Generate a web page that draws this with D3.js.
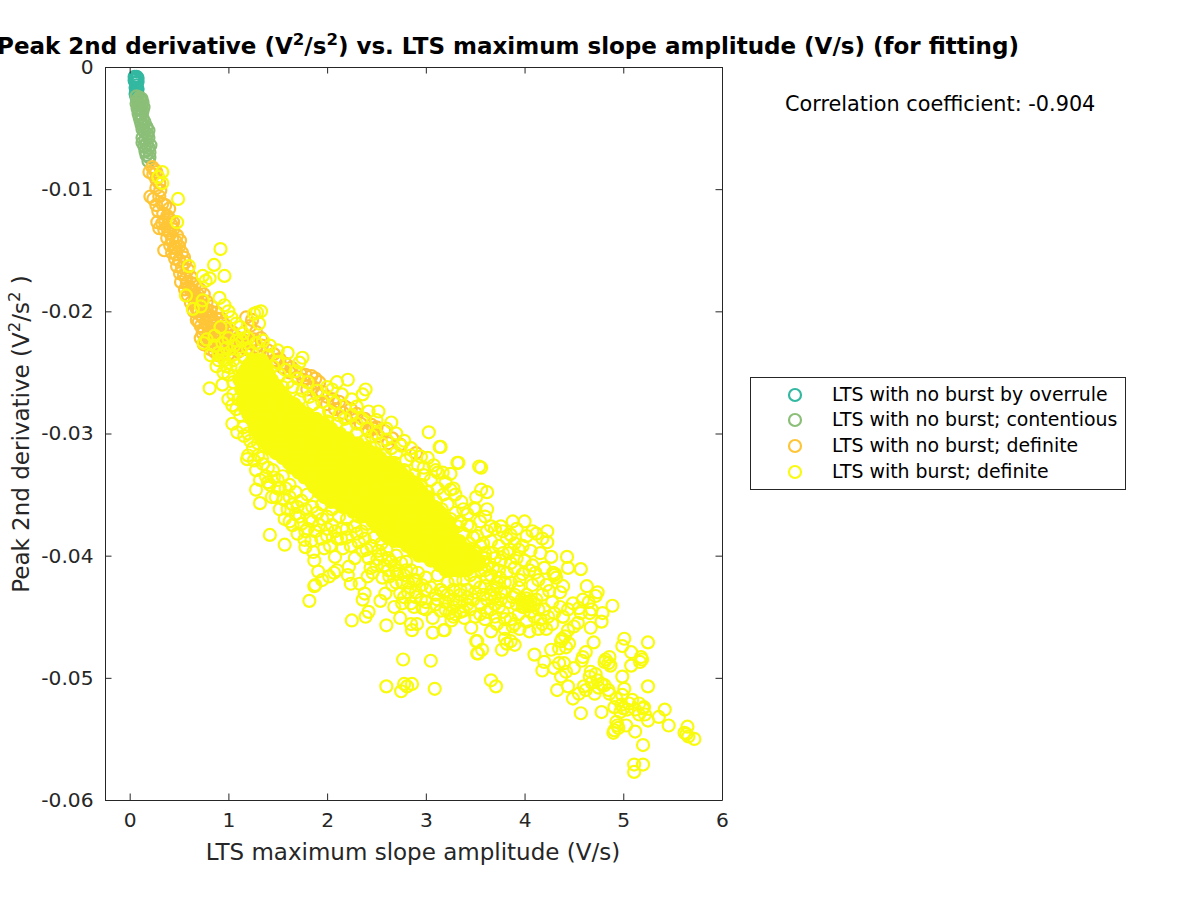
<!DOCTYPE html>
<html><head><meta charset="utf-8">
<script src="https://cdn.jsdelivr.net/npm/d3@7"></script>
<style>html,body{margin:0;background:#fff}svg{display:block;font-family:"DejaVu Sans",sans-serif}</style>
</head><body><div id="c"></div>
<script>
const xTicks=[0,1,2,3,4,5,6];
const yTicks=[0,-0.01,-0.02,-0.03,-0.04,-0.05,-0.06];
const yTickLabels=["0","-0.01","-0.02","-0.03","-0.04","-0.05","-0.06"];
const seriesNames=["LTS with no burst by overrule","LTS with no burst; contentious","LTS with no burst; definite","LTS with burst; definite"];
const seriesColors=["#33b8a1","#8bbf78","#fec537","#f9fb0e"];
const overrule=[[.05,-.0008],[.07,-.0008],[.08,-.0009],[.06,-.0010],[.05,-.0011],[.08,-.0012],[.06,-.0013],[.07,-.0015],[.06,-.0017],[.08,-.0018],[.07,-.0020],[.06,-.0022],[.08,-.0023],[.07,-.0025]];
const contentious=[[.07,-.0024],[.1,-.0025],[.12,-.0026],[.08,-.0027],[.11,-.0028],[.13,-.0029],[.07,-.0030],[.09,-.0031],[.12,-.0032],[.14,-.0033],[.08,-.0034],[.1,-.0035],[.13,-.0036],[.09,-.0038],[.12,-.0039],[.1,-.0041],[.13,-.0042],[.11,-.0044],[.15,-.0045],[.12,-.0047],[.14,-.0048],[.17,-.0049],[.13,-.0051],[.19,-.0052],[.15,-.0053],[.18,-.0055],[.13,-.0058],[.16,-.0059],[.19,-.0058],[.13,-.0062],[.17,-.0063],[.15,-.0065],[.19,-.0066],[.21,-.0064],[.16,-.0069],[.2,-.0070],[.17,-.0072],[.2,-.0074],[.19,-.0077]];
const noBurst=[[.23,-.0082],[.25,-.0084],[.2,-.0086],[.24,-.0088],[.27,-.0086],[.27,-.0092],[.3,-.0095],[.27,-.0099],[.31,-.0101],[.21,-.0106],[.24,-.0108],[.3,-.0106],[.33,-.0112],[.27,-.0113],[.36,-.0113],[.4,-.0116],[.29,-.0118],[.34,-.0120],[.38,-.0122],[.28,-.0127],[.33,-.0128],[.36,-.0127],[.42,-.0129],[.3,-.0132],[.35,-.0133],[.39,-.0134],[.44,-.0133],[.48,-.0138],[.38,-.0140],[.43,-.0141],[.47,-.0143],[.35,-.0150],[.41,-.0146],[.45,-.0148],[.5,-.0147],[.43,-.0152],[.47,-.0153],[.53,-.0152],[.46,-.0157],[.5,-.0158],[.56,-.0160],[.48,-.0163],[.53,-.0164],[.59,-.0166],[.55,-.0170],[.62,-.0172],[.52,-.0176],[.58,-.0177],[.66,-.0178],[.56,-.0182],[.62,-.0183],[.71,-.0182],[.59,-.0187],[.67,-.0188],[.75,-.0186],[.62,-.0193],[.7,-.0193],[.78,-.0192],[.68,-.0198],[.75,-.0198],[.83,-.0196],[.72,-.0203],[.8,-.0203],[.88,-.0201],[.7,-.0209],[.77,-.0209],[.85,-.0208],[.93,-.0206],[.75,-.0215],[.83,-.0214],[.9,-.0214],[.98,-.0212],[.72,-.0222],[.79,-.0221],[.88,-.0220],[.96,-.0219],[1.04,-.0217],[.75,-.0227],[.84,-.0228],[.93,-.0225],[1.02,-.0224],[1.1,-.0222],[1.18,-.0205],[1.24,-.0207],[1.22,-.0212],[1.28,-.0217],[1.33,-.0222],[.86,-.0233],[.95,-.0232],[1.05,-.0230],[1.14,-.0228],[1.22,-.0226],[1.34,-.0228],[1.4,-.0232],[1.46,-.0235],[1.52,-.0239],[1.58,-.0243],[1.64,-.0246],[1.68,-.0249],[1.73,-.0251],[1.78,-.0252],[1.84,-.0253],[1.88,-.0255],[1.92,-.0258],[1.86,-.0262],[1.95,-.0266],[2.0,-.0270],[2.06,-.0272],[2.12,-.0274],[2.18,-.0278],[2.24,-.0280],[2.3,-.0284],[2.38,-.0288],[2.45,-.0293],[2.5,-.0295],[2.58,-.0298],[2.66,-.0304],[2.74,-.0309],[2.9,-.0316],[2.47,-.0296],
[.4,-.0124],[.44,-.0127],[.41,-.0136],[.51,-.0142],[.47,-.0148],[.55,-.0156],[.51,-.0169],[.57,-.0173],[.63,-.0177],[.6,-.0180],[.65,-.0184],[.69,-.0186],[.66,-.0192],[.72,-.0190],[.74,-.0195],[.65,-.0200],[.7,-.0200],[.78,-.0199],[.74,-.0205],[.82,-.0200],[.68,-.0207],[.81,-.0208],[.88,-.0206],[.72,-.0212],[.79,-.0212],[.86,-.0212],[.94,-.0210],[.74,-.0218],[.8,-.0218],[.86,-.0217],[.92,-.0217],[.98,-.0216],[.76,-.0224],[.82,-.0224],[.9,-.0223],[.98,-.0222],[1.06,-.0220],[.82,-.0231],[.9,-.0229],[.98,-.0228],[1.08,-.0227],[1.16,-.0224],[.9,-.0236],[1.0,-.0235],[1.1,-.0233],[1.18,-.0231],[1.28,-.0229],[1.26,-.0223],[1.32,-.0232],[1.4,-.0237],[1.48,-.0240],[1.55,-.0246],[1.62,-.0250],[1.7,-.0254],[1.76,-.0256],[1.82,-.0258],[1.8,-.0264],[1.9,-.0268],[2.0,-.0276],[2.08,-.0280],[2.16,-.0283],[2.25,-.0287],[2.34,-.0292],[2.42,-.0298],[2.52,-.0302],[2.62,-.0308]];
const burstEdge=[[.33,-.0086],[.29,-.0090],[.33,-.0095],[.49,-.0108],[.48,-.0127],[.92,-.0149],[.855,-.0162],[.96,-.0171],[.6,-.0163],[.74,-.0171],[.81,-.0173],[.77,-.0175],[.57,-.0187],[.74,-.0191],[.64,-.0198],[.91,-.0189],[.96,-.0195],[1.33,-.0200],[1.26,-.0202],[1.31,-.0210],[1.29,-.0201],[.72,-.0196],[1.0,-.0200],[1.03,-.0205],[1.08,-.0210],[1.12,-.0213],[.92,-.0213],[.86,-.0220],[1.0,-.0222],[1.08,-.0224],[1.15,-.0218],[1.2,-.0222],[1.28,-.0226],[1.35,-.0224],[1.42,-.0228],[1.5,-.0232],[1.6,-.0234],[1.75,-.0238],[1.68,-.0249],[1.72,-.0242],[.75,-.0226],[.78,-.0223],[.9,-.0240],[.95,-.0235],[.98,-.0245],[1.05,-.0240],[.81,-.0263],[.94,-.0260],[1.0,-.0252],[1.04,-.0277],[1.04,-.0292],[1.09,-.0299],[1.05,-.0268],[1.19,-.0321],[1.28,-.0346],[1.32,-.0357],[1.57,-.0370],[1.42,-.0383],[1.57,-.0391],[1.82,-.0437],[1.87,-.0425],[1.88,-.0424],[1.91,-.0413],[1.95,-.0420],[1.87,-.0404],[1.86,-.0397],[1.78,-.0380],[1.77,-.0387],[1.78,-.0393],[2.08,-.0401],[1.97,-.0394],[1.94,-.0386],[2.16,-.0394],[2.32,-.0389],[2.1,-.0386],[2.02,-.0417],[2.07,-.0414],[2.1,-.0412],[2.22,-.0409],[2.21,-.0416],[2.24,-.0423],[2.33,-.0423],[2.36,-.0436],[2.38,-.0431],[2.25,-.0453],[2.39,-.0450],[2.42,-.0446],[2.6,-.0457],[2.54,-.0437],[2.59,-.0431],[2.44,-.0410],[2.41,-.0417],[2.56,-.0418],[2.63,-.0417],[2.71,-.0415],[2.51,-.0403],[2.68,-.0442],[2.76,-.0439],[2.85,-.0439],[2.74,-.0431],[2.74,-.0451],[2.85,-.0456],[2.91,-.0456],[2.86,-.0461],[3.07,-.0463],[3.18,-.0461],[2.97,-.0443],[3.07,-.0451],[3.24,-.0447],[3.26,-.0453],[3.39,-.0451],[3.46,-.0459],[3.51,-.0470],[3.52,-.0480],[2.77,-.0485],[3.05,-.0486],[2.6,-.0507],[2.78,-.0505],[2.86,-.0505],[2.75,-.0511],[2.81,-.0507],[3.09,-.0509],[1.4,-.0340],[1.5,-.0345],[1.62,-.0352],[1.7,-.0360],[1.65,-.0375],[1.72,-.0368],[1.85,-.0372],[2.0,-.0378],[2.2,-.0385],[2.4,-.0395],[2.55,-.0400],[2.65,-.0405],[2.8,-.0412],[2.9,-.0420],[3.0,-.0428],[2.7,-.0422],[2.82,-.0430],[2.95,-.0436],[3.1,-.0440],[3.2,-.0438],
[2.21,-.0256],[2.39,-.0264],[2.36,-.0268],[2.52,-.0282],[2.65,-.0291],[3.03,-.0299],[3.14,-.0311],[2.1,-.0258],[2.05,-.0264],[2.15,-.0268],[2.25,-.0272],[2.3,-.0278],[2.42,-.0282],[2.5,-.0289],[2.6,-.0296],[2.7,-.0300],[2.78,-.0306],[2.85,-.0312],[2.95,-.0319],[3.15,-.0311],[3.32,-.0324],[3.17,-.0332],[3.25,-.0333],[3.12,-.0332],[3.25,-.0346],[3.49,-.0361],[3.54,-.0327],[3.62,-.0348],[3.56,-.0346],[3.51,-.0352],[3.56,-.0328],[3.62,-.0362],[3.5,-.0362],[3.33,-.0324],[3.02,-.0320],[3.08,-.0326],[2.98,-.0328],[3.2,-.0340],[3.3,-.0350],[3.36,-.0356],[3.42,-.0366],[3.35,-.0372],[3.45,-.0376],[3.55,-.0372],[3.6,-.0368],
[4.23,-.0380],[4.23,-.0389],[4.08,-.0380],[3.92,-.0378],[3.86,-.0383],[4.02,-.0384],[4.12,-.0382],[4.18,-.0386],[3.78,-.0380],[3.7,-.0378],[3.62,-.0380],[3.52,-.0384],[3.58,-.0390],[3.66,-.0388],[3.74,-.0392],[3.82,-.0386],[3.9,-.0390],[3.98,-.0392],[4.06,-.0396],[3.5,-.0398],[3.6,-.0402],[3.68,-.0398],[3.76,-.0404],[3.84,-.0398],[3.92,-.0402],[4.0,-.0404],[4.08,-.0408],[4.11,-.0414],[3.98,-.0415],[4.27,-.0401],[4.43,-.0401],[4.44,-.0410],[4.57,-.0411],[4.3,-.0416],[4.31,-.0415],[4.29,-.0414],[4.32,-.0418],[4.39,-.0425],[4.36,-.0430],[4.25,-.0429],[4.08,-.0424],[3.9,-.0410],[3.82,-.0414],[3.75,-.0418],[3.86,-.0422],[3.94,-.0426],[4.02,-.0432],[3.72,-.0426],[3.8,-.0430],[3.66,-.0432],[3.88,-.0434],[3.97,-.0436],[4.0,-.0438],[4.03,-.0438],[4.06,-.0437],[4.03,-.0441],[4.0,-.0442],[4.06,-.0441],[4.02,-.0435],[4.1,-.0440],[4.14,-.0444],[4.12,-.0436],[3.92,-.0440],[3.84,-.0438],[3.76,-.0436],[3.7,-.0440],[3.62,-.0436],[3.56,-.0440],[3.48,-.0436],[3.42,-.0440],[3.34,-.0438],[3.28,-.0442],[3.55,-.0448],[3.62,-.0446],[3.7,-.0450],[3.78,-.0446],[3.86,-.0452],[3.94,-.0448],[4.02,-.0454],[4.1,-.0450],[4.18,-.0456],[3.72,-.0456],[3.8,-.0460],[3.88,-.0458],[3.66,-.0462],[3.95,-.0460],[4.05,-.0462],[4.14,-.0460],[3.19,-.0461],[3.52,-.0470],[3.57,-.0477],[3.53,-.0480],[3.77,-.0477],[3.9,-.0473],[3.82,-.0472],[3.8,-.0468],[3.86,-.0470],[3.66,-.0502],[3.71,-.0507],[4.3,-.0447],[4.39,-.0450],[4.2,-.0444],[4.24,-.0450],[4.28,-.0456],[4.16,-.0452],[4.22,-.0460],
[4.1,-.0481],[4.27,-.0477],[4.37,-.0470],[4.45,-.0472],[4.35,-.0476],[4.38,-.0468],[4.42,-.0475],[4.7,-.0471],[4.59,-.0483],[4.62,-.0479],[4.58,-.0486],[4.44,-.0461],[4.41,-.0466],[4.39,-.0450],[4.67,-.0459],[4.54,-.0455],[4.5,-.0458],[4.79,-.0447],[4.78,-.0454],[4.89,-.0441],[4.49,-.0439],[4.57,-.0447],[4.66,-.0447],[4.59,-.0436],[4.65,-.0438],[4.72,-.0433],[4.74,-.0430],[4.63,-.0425],[4.68,-.0444],[4.55,-.0443],
[5.25,-.0471],[5.01,-.0468],[4.99,-.0474],[5.08,-.0479],[5.18,-.0483],[5.17,-.0487],[5.19,-.0485],[5.08,-.0490],[4.82,-.0485],[4.86,-.0483],[4.87,-.0490],[4.81,-.0487],[4.85,-.0488],[4.99,-.0499],[5.25,-.0507],[5.01,-.0509],[5.42,-.0526],[5.36,-.0532],[5.46,-.0539],[5.65,-.0540],[5.64,-.0546],[5.66,-.0548],[5.72,-.0550],[5.62,-.0545],[5.2,-.0555],[5.2,-.0571],[5.11,-.0571],[5.11,-.0577],[5.12,-.0544],[5.03,-.0539],[4.94,-.0539],[4.9,-.0545],[4.93,-.0536],[4.91,-.0543],[4.95,-.0541],[4.57,-.0529],[4.78,-.0528],[5.2,-.0525],[5.22,-.0530],[5.25,-.0535],[5.16,-.0530],[5.21,-.0524],[4.91,-.0524],[4.98,-.0522],[5.04,-.0526],[5.09,-.0518],[5.16,-.0521],[4.99,-.0514],[4.86,-.0513],[4.81,-.0506],[4.74,-.0502],[4.67,-.0495],[4.71,-.0513],[4.6,-.0507],[4.55,-.0513],[4.49,-.0517],[4.33,-.0510],[4.44,-.0507],[4.37,-.0499],[4.5,-.0492],[4.35,-.0488],[4.2,-.0487],[4.18,-.0494],[4.42,-.0495],[4.4,-.0488],[4.3,-.0492],[4.62,-.0510],[4.68,-.0504],[4.75,-.0508],[4.66,-.0499],[4.72,-.0497],[4.78,-.0505],[4.85,-.0510],[4.93,-.0517],[4.97,-.0528],[5.0,-.0525],[5.06,-.0521],[5.12,-.0526]];
const burstUpperFringe=[[1.4,-.0236],[1.45,-.0245],[1.52,-.0252],[1.5,-.0242],[1.58,-.0248],[1.6,-.0258],[1.65,-.0262],[1.55,-.0262],[1.7,-.0255],[1.75,-.0265],[1.8,-.0258],[1.72,-.0272],[1.82,-.0270],[1.9,-.0265],[1.86,-.0276],[1.95,-.0274],[2.0,-.0262],[1.92,-.0283],[2.02,-.0282],[2.08,-.0275],[2.12,-.0285],[2.0,-.0290],[2.1,-.0292],[2.18,-.0288],[2.25,-.0285],[2.3,-.0292],[2.2,-.0296],[2.35,-.0288],[2.4,-.0296],[2.3,-.0300],[2.45,-.0302],[2.38,-.0306],[2.5,-.0300],[2.55,-.0308],[2.48,-.0312],[2.6,-.0305],[2.65,-.0312],[2.58,-.0318],[2.7,-.0316],[2.75,-.0310],[2.8,-.0322],[2.68,-.0324],[2.85,-.0318],[2.92,-.0326],[2.78,-.0330],[2.88,-.0334],[2.98,-.0334],[3.05,-.0338],[2.95,-.0342],[3.1,-.0330],[3.12,-.0345],[3.02,-.0348],[3.18,-.0350],[3.1,-.0355],[3.22,-.0358],[3.28,-.0345],[3.16,-.0362],[3.3,-.0365],[3.25,-.0370],[3.38,-.0362],[3.32,-.0376],[3.42,-.0375],[3.38,-.0382],[3.48,-.0385],[3.44,-.0390],[3.55,-.0392],[3.5,-.0396],[3.6,-.0398],[3.58,-.0405],[3.68,-.0410],[3.66,-.0416],[3.72,-.0422],[.86,-.0228],[.94,-.0226],[.82,-.0236],[.9,-.0234],[.98,-.0230],[1.06,-.0228],[1.14,-.0224],[.88,-.0245],[.96,-.0240],[1.04,-.0236],[1.12,-.0232],[1.2,-.0230],[.95,-.0250],[1.02,-.0246],[1.08,-.0244],[1.16,-.0238],[1.24,-.0234]];
const burstLowerFringe=[[1.2,-.0300],[1.25,-.0312],[1.3,-.0318],[1.28,-.0330],[1.35,-.0325],[1.38,-.0335],[1.45,-.0330],[1.42,-.0342],[1.5,-.0338],[1.55,-.0335],[1.48,-.0352],[1.58,-.0345],[1.62,-.0342],[1.68,-.0348],[1.65,-.0358],[1.74,-.0355],[1.8,-.0350],[1.78,-.0362],[1.85,-.0360],[1.82,-.0370],[1.9,-.0365],[1.95,-.0358],[1.92,-.0375],[2.0,-.0368],[2.05,-.0362],[2.05,-.0375],[2.12,-.0368],[2.15,-.0378],[2.2,-.0370],[2.25,-.0362],[2.28,-.0376],[2.32,-.0368],[2.35,-.0380],[2.4,-.0374],[2.38,-.0386],[2.48,-.0385],[2.45,-.0392],[2.55,-.0390],[2.52,-.0396],[2.6,-.0395],[2.62,-.0402],[2.7,-.0400],[2.68,-.0408],[2.75,-.0406],[2.8,-.0405],[2.78,-.0416],[2.85,-.0412],[2.88,-.0420],[2.92,-.0414],[2.96,-.0424],[3.0,-.0418],[3.05,-.0426],[3.1,-.0432],[3.15,-.0428],[3.22,-.0432],[3.28,-.0436],[3.35,-.0432],[1.12,-.0285],[1.15,-.0295],[1.08,-.0280],[1.0,-.0272],[1.05,-.0258]];
const burstTail=[[3.42,-.0395],[3.5,-.0405],[3.56,-.0412],[3.62,-.0408],[3.7,-.0402],[3.78,-.0398],[3.86,-.0406],[3.94,-.0395],[3.8,-.0422],[3.74,-.0412],[3.6,-.0425],[3.68,-.0428],[3.5,-.0430],[3.42,-.0428],[3.35,-.0428],[3.58,-.0432],[3.76,-.0430],[3.9,-.0432],[3.7,-.0434],[3.45,-.0444],[3.38,-.0445],[3.5,-.0450],[3.6,-.0452],[3.66,-.0444],[3.74,-.0442],[3.8,-.0452],[3.9,-.0456],[3.98,-.0442],[4.06,-.0446],[3.3,-.0448],[3.15,-.0445],[3.0,-.0438],[2.9,-.0430],[2.82,-.0422],[4.0,-.0372],[3.88,-.0372],[3.76,-.0376],[3.66,-.0376],[4.16,-.0398],[4.2,-.0410],[4.14,-.0420],[4.22,-.0424],[4.18,-.0432],[4.28,-.0438],[4.36,-.0442],[4.44,-.0444],[3.85,-.0395],[4.05,-.0412],[3.95,-.0420]];
const burstSpread=[[1.14,-.0262],[1.1,-.0272],[1.16,-.0302],[1.22,-.0306],[1.2,-.0318],[1.3,-.0308],[1.34,-.0320],[1.26,-.0322],[1.32,-.0338],[1.4,-.0328],[1.46,-.0336],[1.52,-.0344],[1.44,-.0352],[1.56,-.0354],[1.6,-.0362],[1.52,-.0362],[1.68,-.0366],[1.62,-.0372],[1.74,-.0374],[1.8,-.0378],[1.7,-.0382],[1.88,-.0380],[1.84,-.0388],[1.95,-.0370],[2.0,-.0384],[2.08,-.0380],[2.03,-.0392],[2.14,-.0386],[2.2,-.0378],[2.24,-.0392],[2.3,-.0382],[2.36,-.0396],[2.28,-.0402],[2.42,-.0402],[2.5,-.0408],[2.58,-.0408],[2.46,-.0414],[2.62,-.0412],[2.7,-.0412],[2.66,-.0424],[2.76,-.0422],[2.84,-.0426],[2.78,-.0434],[2.9,-.0434],[2.88,-.0442],[3.0,-.0444],[3.12,-.0436],[3.2,-.0444],[3.28,-.0450],[3.35,-.0446],[3.42,-.0434],[3.5,-.0422],[3.55,-.0426],[3.62,-.0418],[3.3,-.0420],[3.22,-.0422],[3.12,-.0416],[3.38,-.0420],[3.45,-.0416],[3.28,-.0428],[3.18,-.0430],[3.6,-.0412]];
// dense core of the burst cloud, one row per y value (overlap is solid in the picture)
const coreRowY=[-.0240,-.0244,-.0248,-.0252,-.0256,-.0260,-.0264,-.0268,-.0272,-.0276,-.0280,-.0284,-.0288,-.0292,-.0296,-.0300,-.0304,-.0308,-.0312,-.0316,-.0320,-.0324,-.0328,-.0332,-.0336,-.0340,-.0344,-.0348,-.0352,-.0356,-.0360,-.0364,-.0368,-.0372,-.0376,-.0380,-.0384,-.0388,-.0392,-.0396,-.0400,-.0404,-.0408,-.0412];
const coreRowX=[
[1.24,1.29,1.34],
[1.2,1.26,1.31,1.37],
[1.17,1.23,1.28,1.33,1.39],
[1.14,1.19,1.25,1.3,1.36,1.41],
[1.11,1.17,1.22,1.28,1.33,1.39,1.44],
[1.14,1.19,1.25,1.3,1.36,1.41,1.47],
[1.13,1.18,1.24,1.29,1.35,1.4,1.46,1.51],
[1.16,1.21,1.27,1.32,1.38,1.43,1.49,1.54],
[1.15,1.21,1.26,1.32,1.37,1.43,1.48,1.54,1.59],
[1.18,1.23,1.29,1.34,1.4,1.45,1.51,1.56,1.62,1.67],
[1.17,1.23,1.28,1.34,1.39,1.45,1.5,1.56,1.61,1.67,1.72],
[1.2,1.25,1.31,1.36,1.42,1.47,1.53,1.58,1.64,1.69,1.75,1.8],
[1.23,1.29,1.34,1.4,1.45,1.51,1.56,1.62,1.67,1.73,1.78,1.84,1.89],
[1.26,1.31,1.37,1.42,1.48,1.53,1.59,1.64,1.7,1.75,1.81,1.86,1.92,1.97],
[1.27,1.33,1.38,1.44,1.49,1.55,1.6,1.66,1.71,1.77,1.82,1.88,1.93,1.99,2.04],
[1.31,1.36,1.42,1.47,1.53,1.58,1.64,1.69,1.75,1.8,1.86,1.91,1.97,2.02,2.08,2.13],
[1.33,1.39,1.44,1.5,1.55,1.61,1.66,1.72,1.77,1.83,1.88,1.94,1.99,2.05,2.1,2.16,2.21],
[1.38,1.43,1.49,1.54,1.6,1.65,1.71,1.76,1.82,1.87,1.93,1.98,2.04,2.09,2.15,2.2,2.26,2.31],
[1.41,1.47,1.52,1.58,1.63,1.69,1.74,1.8,1.85,1.91,1.96,2.02,2.07,2.13,2.18,2.24,2.29,2.35,2.4],
[1.48,1.53,1.59,1.64,1.7,1.75,1.81,1.86,1.92,1.97,2.03,2.08,2.14,2.19,2.25,2.3,2.36,2.41,2.47],
[1.55,1.61,1.66,1.72,1.77,1.83,1.88,1.94,1.99,2.05,2.1,2.16,2.21,2.27,2.32,2.38,2.43,2.49,2.54],
[1.61,1.66,1.72,1.77,1.83,1.88,1.94,1.99,2.05,2.1,2.16,2.21,2.27,2.32,2.38,2.43,2.49,2.54,2.6,2.65],
[1.65,1.71,1.76,1.82,1.87,1.93,1.98,2.04,2.09,2.15,2.2,2.26,2.31,2.37,2.42,2.48,2.53,2.59,2.64,2.7],
[1.71,1.76,1.82,1.87,1.93,1.98,2.04,2.09,2.15,2.2,2.26,2.31,2.37,2.42,2.48,2.53,2.59,2.64,2.7,2.75],
[1.77,1.83,1.88,1.94,1.99,2.05,2.1,2.16,2.21,2.27,2.32,2.38,2.43,2.49,2.54,2.6,2.65,2.71,2.76,2.82],
[1.84,1.89,1.95,2.0,2.06,2.11,2.17,2.22,2.28,2.33,2.39,2.44,2.5,2.55,2.61,2.66,2.72,2.77,2.83,2.88],
[1.87,1.93,1.98,2.04,2.09,2.15,2.2,2.26,2.31,2.37,2.42,2.48,2.53,2.59,2.64,2.7,2.75,2.81,2.86,2.92],
[1.92,1.97,2.03,2.08,2.14,2.19,2.25,2.3,2.36,2.41,2.47,2.52,2.58,2.63,2.69,2.74,2.8,2.85,2.91,2.96],
[1.97,2.03,2.08,2.14,2.19,2.25,2.3,2.36,2.41,2.47,2.52,2.58,2.63,2.69,2.74,2.8,2.85,2.91,2.96,3.02],
[2.04,2.09,2.15,2.2,2.26,2.31,2.37,2.42,2.48,2.53,2.59,2.64,2.7,2.75,2.81,2.86,2.92,2.97,3.03],
[2.15,2.21,2.26,2.32,2.37,2.43,2.48,2.54,2.59,2.65,2.7,2.76,2.81,2.87,2.92,2.98,3.03,3.09],
[2.26,2.31,2.37,2.42,2.48,2.53,2.59,2.64,2.7,2.75,2.81,2.86,2.92,2.97,3.03,3.08,3.14],
[2.35,2.41,2.46,2.52,2.57,2.63,2.68,2.74,2.79,2.85,2.9,2.96,3.01,3.07,3.12,3.18],
[2.46,2.51,2.57,2.62,2.68,2.73,2.79,2.84,2.9,2.95,3.01,3.06,3.12,3.17,3.23],
[2.5,2.56,2.61,2.67,2.72,2.78,2.83,2.89,2.94,3.0,3.05,3.11,3.16,3.22],
[2.56,2.61,2.67,2.72,2.78,2.83,2.89,2.94,3.0,3.05,3.11,3.16,3.22,3.27],
[2.6,2.66,2.71,2.77,2.82,2.88,2.93,2.99,3.04,3.1,3.15,3.21,3.26],
[2.68,2.73,2.79,2.84,2.9,2.95,3.01,3.06,3.12,3.17,3.23,3.28,3.34],
[2.81,2.86,2.92,2.97,3.03,3.08,3.14,3.19,3.25,3.3,3.36],
[2.87,2.93,2.98,3.04,3.09,3.15,3.2,3.26,3.31,3.37,3.42],
[2.93,2.98,3.04,3.09,3.15,3.2,3.26,3.31,3.37,3.42,3.48],
[3.05,3.1,3.16,3.21,3.27,3.32,3.38,3.43,3.49,3.54],
[3.14,3.19,3.25,3.3,3.36,3.41,3.47,3.52],
[3.2,3.26,3.31,3.37,3.42]
];
const burstCore=coreRowY.flatMap((y,i)=>coreRowX[i].map(x=>[x,y]));
const burst=burstEdge.concat(burstUpperFringe,burstLowerFringe,burstTail,burstSpread);
const allSeries=[overrule,contentious,noBurst,burst];

const W=1200,H=900,L=105,R=722,T=67,B=800,ink="#262626",ringR=6,ringW=2.2;
const svg=d3.select("#c").append("svg").attr("width",W).attr("height",H);
const x=d3.scaleLinear().domain([-0.25,6]).range([L,R]);
const y=d3.scaleLinear().domain([-0.06,0]).range([B,T]);

const g=svg.append("g");
allSeries.forEach((s,i)=>{
  g.selectAll(null).data(s).join("circle")
   .attr("cx",d=>x(d[0])).attr("cy",d=>y(d[1])).attr("r",ringR)
   .attr("fill","none").attr("stroke",seriesColors[i]).attr("stroke-width",ringW);
});
// the core's rings overlap so heavily that they read as solid colour
g.selectAll(null).data(burstCore).join("circle")
   .attr("cx",d=>x(d[0])).attr("cy",d=>y(d[1])).attr("r",ringR)
   .attr("fill",seriesColors[3]).attr("stroke",seriesColors[3]).attr("stroke-width",ringW);

function styleAxis(a){a.selectAll("path").attr("stroke",ink).attr("stroke-width",1);
 a.selectAll("line").attr("stroke",ink).attr("stroke-width",1);
 a.selectAll("text").attr("fill",ink).attr("font-size",20.2).attr("font-family",'"DejaVu Sans"');}
const ts=6.5;
svg.append("g").attr("transform",`translate(0,${B})`).call(d3.axisBottom(x).tickValues(xTicks).tickFormat(d3.format("d")).tickSizeInner(-ts).tickSizeOuter(0).tickPadding(ts+6)).call(styleAxis);
svg.append("g").attr("transform",`translate(0,${T})`).call(d3.axisTop(x).tickValues(xTicks).tickFormat("").tickSizeInner(-ts).tickSizeOuter(0)).call(styleAxis);
svg.append("g").attr("transform",`translate(${L},0)`).call(d3.axisLeft(y).tickValues(yTicks).tickFormat((d,i)=>yTickLabels[i]).tickSizeInner(-ts).tickSizeOuter(0).tickPadding(ts+5)).call(styleAxis);
svg.append("g").attr("transform",`translate(${R},0)`).call(d3.axisRight(y).tickValues(yTicks).tickFormat("").tickSizeInner(-ts).tickSizeOuter(0)).call(styleAxis);

function rich(t,parts,size){parts.forEach(p=>{const s=t.append("tspan").text(p.t);
  if(p.sup){s.attr("font-size",size*0.72).attr("dy",-size*0.38);} else if(p.after){s.attr("dy",size*0.38);} });}

const title=svg.append("text").attr("x",508).attr("y",54).attr("text-anchor","middle")
  .attr("font-weight","bold").attr("font-size",23).attr("fill","#000");
rich(title,[{t:"Peak 2nd derivative (V"},{t:"2",sup:1},{t:"/s",after:1},{t:"2",sup:1},{t:") vs. LTS maximum slope amplitude (V/s) (for fitting)",after:1}],23);

svg.append("text").attr("x",413).attr("y",860).attr("text-anchor","middle").attr("font-size",23).attr("fill",ink).text("LTS maximum slope amplitude (V/s)");
const yl=svg.append("text").attr("transform","translate(29,434) rotate(-90)").attr("text-anchor","middle").attr("font-size",23).attr("fill",ink);
rich(yl,[{t:"Peak 2nd derivative (V"},{t:"2",sup:1},{t:"/s",after:1},{t:"2",sup:1},{t:" )",after:1}],23);

svg.append("text").attr("x",785).attr("y",111).attr("font-size",20.8).attr("fill","#000").text("Correlation coefficient: -0.904");

svg.append("rect").attr("x",750.5).attr("y",377.5).attr("width",375).attr("height",112).attr("fill","#fff").attr("stroke",ink);
const legendRowY=[395,420,446,472];
seriesNames.forEach((n,i)=>{
  svg.append("circle").attr("cx",795).attr("cy",legendRowY[i]).attr("r",ringR).attr("fill","none").attr("stroke",seriesColors[i]).attr("stroke-width",ringW);
  svg.append("text").attr("x",832).attr("y",legendRowY[i]+6).attr("font-size",18.9).attr("fill","#000").text(n);
});
</script></body></html>
